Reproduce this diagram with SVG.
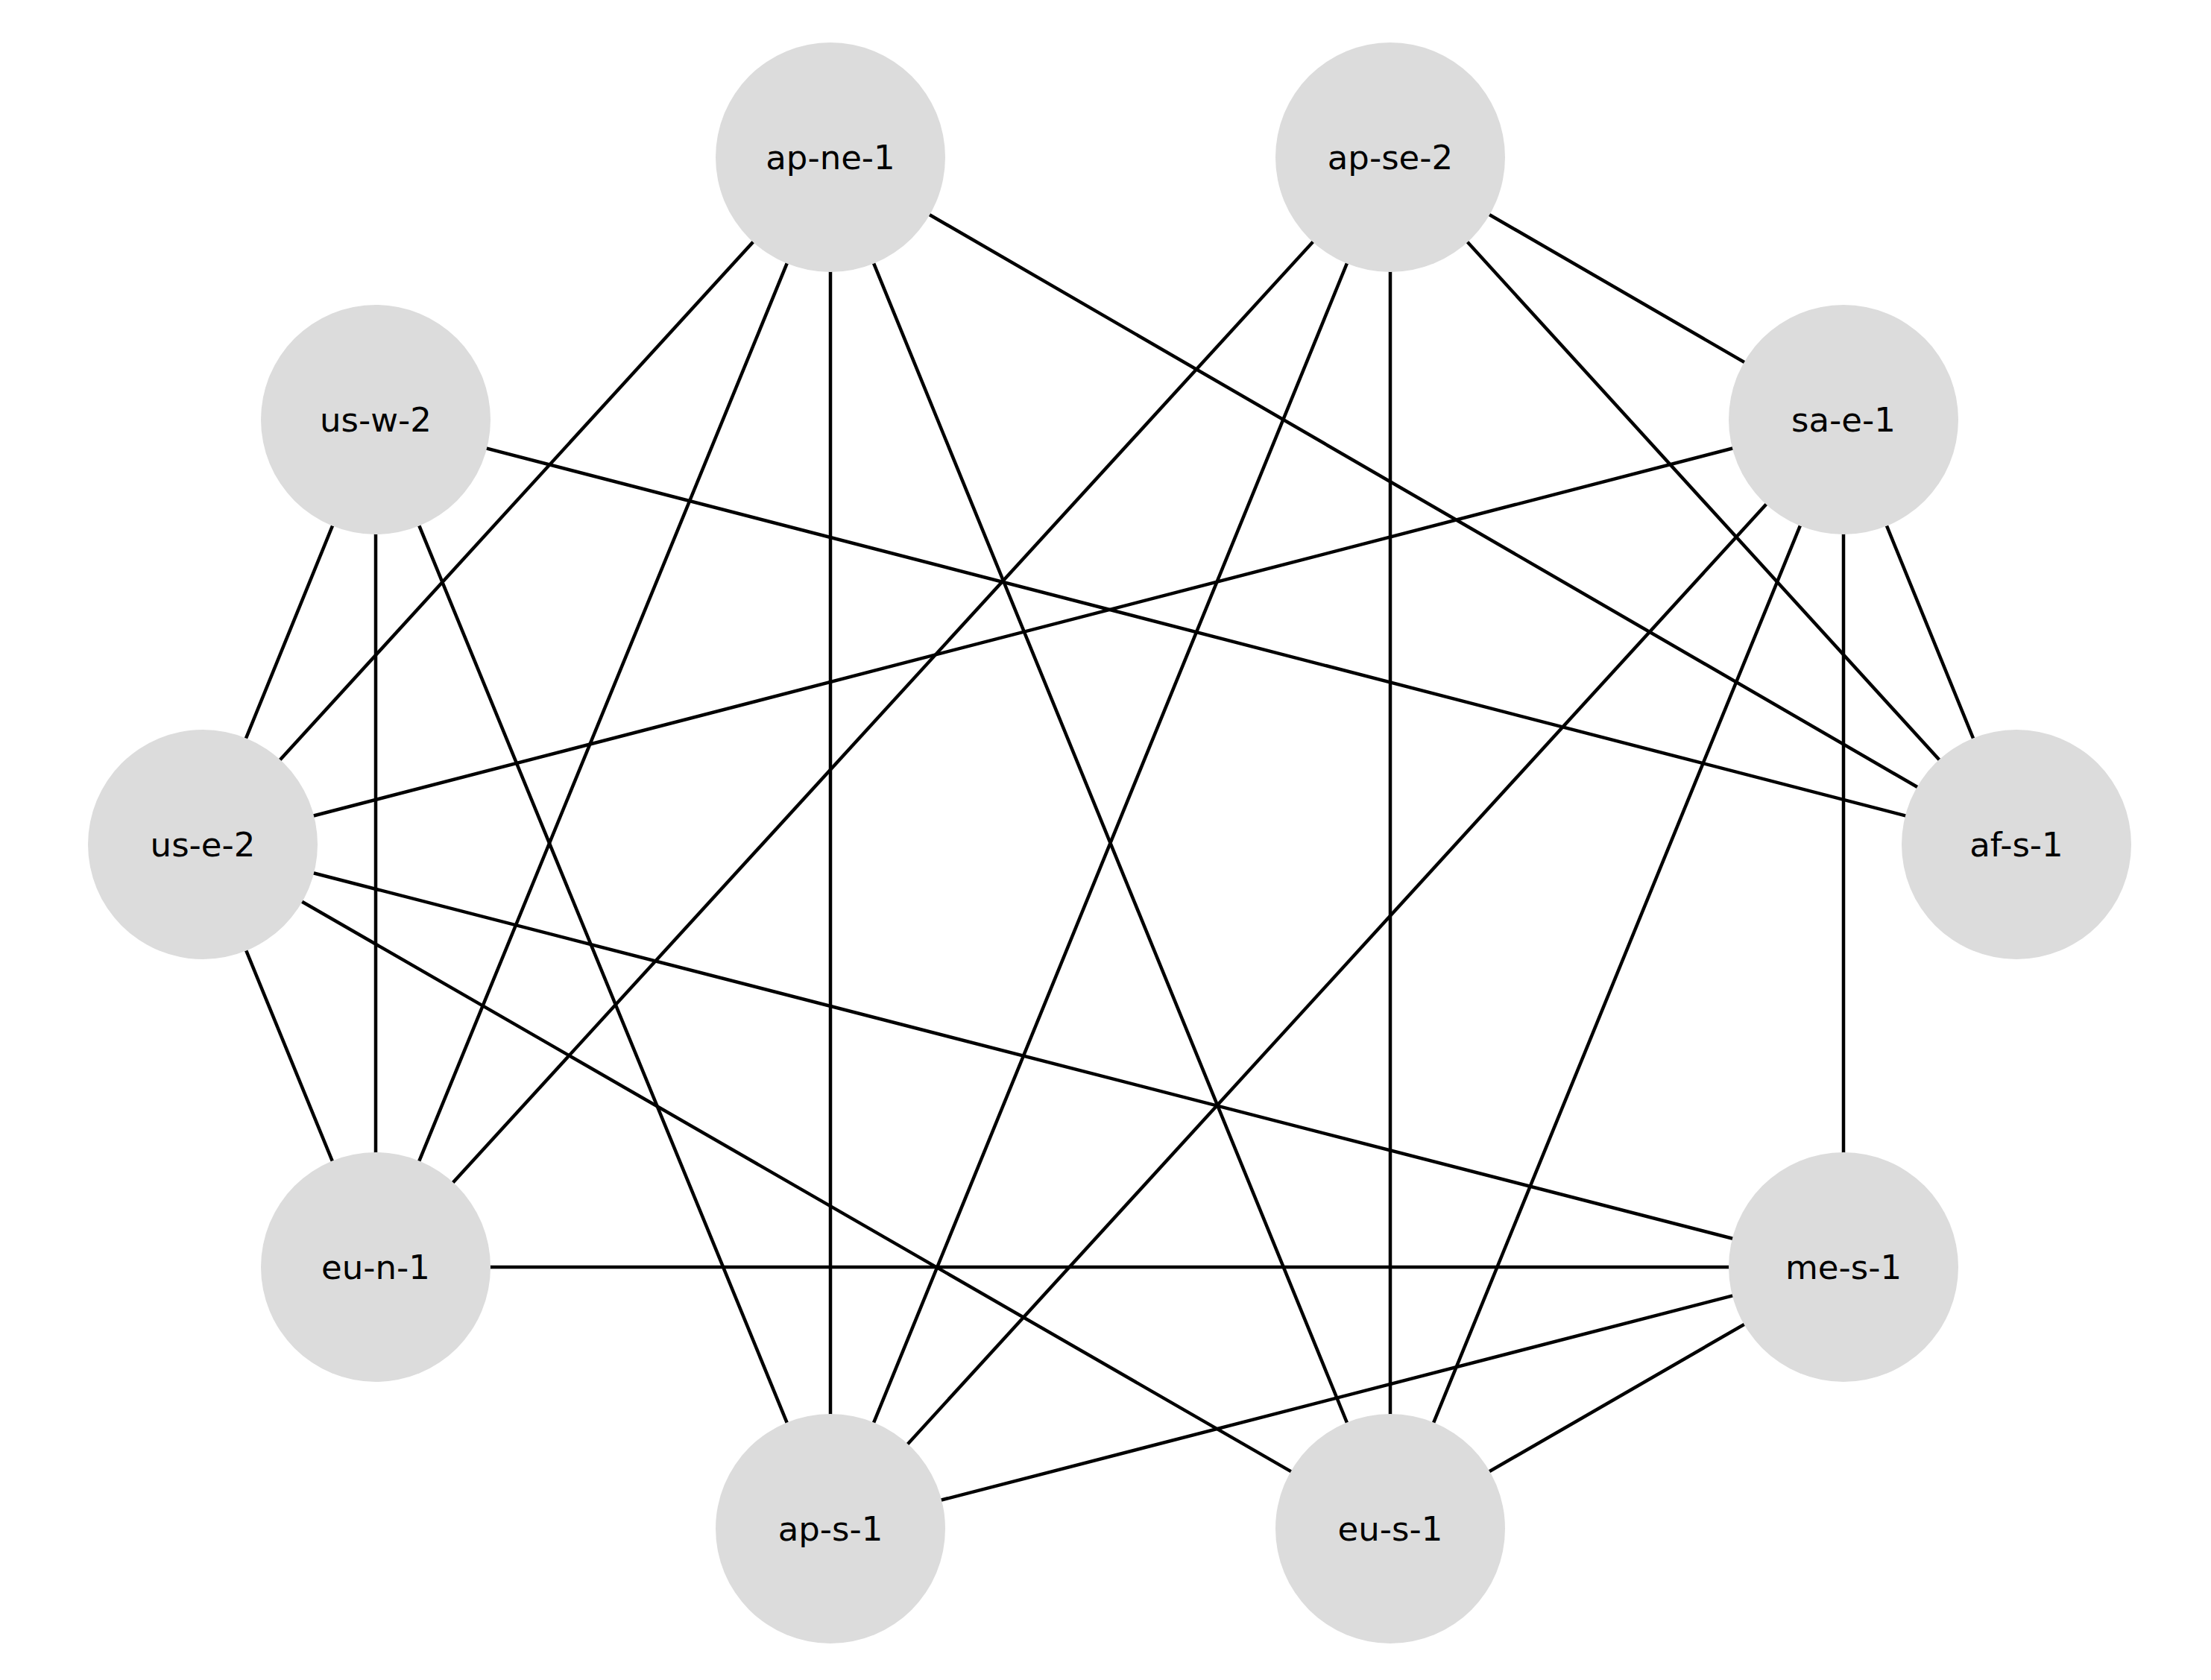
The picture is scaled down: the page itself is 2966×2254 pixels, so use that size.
<svg xmlns="http://www.w3.org/2000/svg" width="2966" height="2254" viewBox="0 0 2966 2254">
<style>
.e{stroke:#000;stroke-width:4.5;fill:none}
.n circle{fill:#dcdcdc}
.n text{font-family:"DejaVu Sans",sans-serif;font-size:45px;text-anchor:middle;dominant-baseline:central;fill:#000}
</style>
<rect width="2966" height="2254" fill="#fff"/>
<g id="edges" class="e">
<line x1="1114" y1="211" x2="272" y2="1133"/>
<line x1="1114" y1="211" x2="504" y2="1700"/>
<line x1="1114" y1="211" x2="1114" y2="2051"/>
<line x1="1114" y1="211" x2="1865" y2="2051"/>
<line x1="1114" y1="211" x2="2705" y2="1133"/>
<line x1="1865" y1="211" x2="2473" y2="563"/>
<line x1="1865" y1="211" x2="2705" y2="1133"/>
<line x1="1865" y1="211" x2="1865" y2="2051"/>
<line x1="1865" y1="211" x2="1114" y2="2051"/>
<line x1="1865" y1="211" x2="504" y2="1700"/>
<line x1="2473" y1="563" x2="272" y2="1133"/>
<line x1="2473" y1="563" x2="1114" y2="2051"/>
<line x1="2473" y1="563" x2="1865" y2="2051"/>
<line x1="2473" y1="563" x2="2473" y2="1700"/>
<line x1="2473" y1="563" x2="2705" y2="1133"/>
<line x1="504" y1="563" x2="2705" y2="1133"/>
<line x1="504" y1="563" x2="272" y2="1133"/>
<line x1="504" y1="563" x2="504" y2="1700"/>
<line x1="504" y1="563" x2="1114" y2="2051"/>
<line x1="272" y1="1133" x2="504" y2="1700"/>
<line x1="272" y1="1133" x2="2473" y2="1700"/>
<line x1="272" y1="1133" x2="1865" y2="2051"/>
<line x1="504" y1="1700" x2="2473" y2="1700"/>
<line x1="2473" y1="1700" x2="1114" y2="2051"/>
<line x1="2473" y1="1700" x2="1865" y2="2051"/>
</g>
<g id="ap-ne-1" class="n"><circle cx="1114" cy="211" r="154"/><text x="1114" y="211">ap-ne-1</text></g>
<g id="ap-se-2" class="n"><circle cx="1865" cy="211" r="154"/><text x="1865" y="211">ap-se-2</text></g>
<g id="sa-e-1" class="n"><circle cx="2473" cy="563" r="154"/><text x="2473" y="563">sa-e-1</text></g>
<g id="af-s-1" class="n"><circle cx="2705" cy="1133" r="154"/><text x="2705" y="1133">af-s-1</text></g>
<g id="me-s-1" class="n"><circle cx="2473" cy="1700" r="154"/><text x="2473" y="1700">me-s-1</text></g>
<g id="eu-s-1" class="n"><circle cx="1865" cy="2051" r="154"/><text x="1865" y="2051">eu-s-1</text></g>
<g id="ap-s-1" class="n"><circle cx="1114" cy="2051" r="154"/><text x="1114" y="2051">ap-s-1</text></g>
<g id="eu-n-1" class="n"><circle cx="504" cy="1700" r="154"/><text x="504" y="1700">eu-n-1</text></g>
<g id="us-e-2" class="n"><circle cx="272" cy="1133" r="154"/><text x="272" y="1133">us-e-2</text></g>
<g id="us-w-2" class="n"><circle cx="504" cy="563" r="154"/><text x="504" y="563">us-w-2</text></g>
</svg>
